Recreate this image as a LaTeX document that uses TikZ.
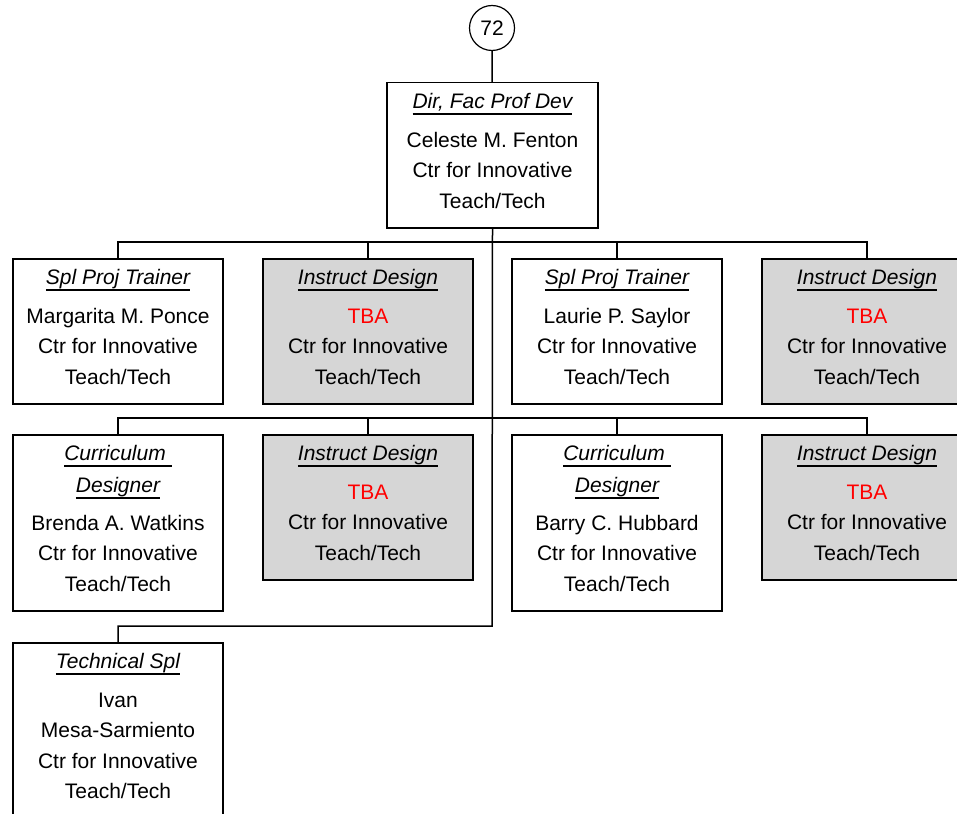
\documentclass[tikz,border=0pt]{standalone}
\usepackage{fontspec}
\setmainfont{Liberation Sans}
\usetikzlibrary{positioning}
\newcommand{\jobtitle}[1]{\setbox0=\hbox{\itshape #1}\rlap{\rule[-6.5pt]{\wd0}{1.8pt}}\box0}
\newcommand{\tba}{{\color{red}TBA}}
\tikzset{
  post/.style={draw=black, line width=1.5pt, anchor=north, minimum width=210pt, minimum height=145pt, inner sep=0pt},
  vacant/.style={post, fill=black!16},
  tall/.style={minimum height=176pt},
  txt/.style={align=center, inner sep=0pt, font=\fontsize{21pt}{30.5pt}\selectfont},
  link/.style={line width=1.5pt}
}

\begin{document}
\begin{tikzpicture}[x=1pt, y=-1pt]
\path[use as bounding box] (0,0) rectangle (957,813);
\clip (0,0) rectangle (957,813);
% top
\node[draw=black, line width=1.2pt, circle, minimum size=45pt, inner sep=0pt, txt] (num) at (492,28) {72};
\node[post, minimum width=211pt] (dir) at (492.5,82) {};
\node[txt, below=11pt of dir.north] (dir-t) {\jobtitle{Dir, Fac Prof Dev}\\[8.5pt]Celeste M. Fenton\\Ctr for Innovative\\Teach/Tech};
% first row
\node[post] (ponce) at (118,258) {};
\node[vacant] (idA) at (368,258) {};
\node[post] (saylor) at (617,258) {};
\node[vacant] (idB) at (867,258) {};
\node[txt, below=11pt of ponce.north] (ponce-t) {\jobtitle{Spl Proj Trainer}\\[8.5pt]Margarita M. Ponce\\Ctr for Innovative\\Teach/Tech};
\node[txt, below=11pt of idA.north] (idA-t) {\jobtitle{Instruct Design}\\[8.5pt]\tba\\Ctr for Innovative\\Teach/Tech};
\node[txt, below=11pt of saylor.north] (saylor-t) {\jobtitle{Spl Proj Trainer}\\[8.5pt]Laurie P. Saylor\\Ctr for Innovative\\Teach/Tech};
\node[txt, below=11pt of idB.north] (idB-t) {\jobtitle{Instruct Design}\\[8.5pt]\tba\\Ctr for Innovative\\Teach/Tech};
% second row
\node[post, tall] (watkins) at (118,434) {};
\node[vacant] (idC) at (368,434) {};
\node[post, tall] (hubbard) at (617,434) {};
\node[vacant] (idD) at (867,434) {};
\node[txt, below=11pt of watkins.north] (watkins-t) {\jobtitle{Curriculum\ }\\[1.5pt]\jobtitle{Designer}\\[7.5pt]Brenda A. Watkins\\Ctr for Innovative\\Teach/Tech};
\node[txt, below=11pt of idC.north] (idC-t) {\jobtitle{Instruct Design}\\[8.5pt]\tba\\Ctr for Innovative\\Teach/Tech};
\node[txt, below=11pt of hubbard.north] (hubbard-t) {\jobtitle{Curriculum\ }\\[1.5pt]\jobtitle{Designer}\\[7.5pt]Barry C. Hubbard\\Ctr for Innovative\\Teach/Tech};
\node[txt, below=11pt of idD.north] (idD-t) {\jobtitle{Instruct Design}\\[8.5pt]\tba\\Ctr for Innovative\\Teach/Tech};
% third row
\node[post, minimum height=200pt] (mesa) at (118,642) {};
\node[txt, below=11pt of mesa.north] (mesa-t) {\jobtitle{Technical Spl}\\[8.5pt]Ivan\\Mesa-Sarmiento\\Ctr for Innovative\\Teach/Tech};
% lines
\coordinate (bus1) at (492,242);
\coordinate (bus2) at (492,418);
\coordinate (bus3) at (492,626);
\draw[link] (num) -- (dir);
\draw[link] (dir.south) -- (bus3) -| (mesa.north);
\foreach \b in {ponce, idA, saylor, idB}
  \draw[link] (bus1) -| (\b.north);
\foreach \b in {watkins, idC, hubbard, idD}
  \draw[link] (bus2) -| (\b.north);
\end{tikzpicture}
\end{document}
